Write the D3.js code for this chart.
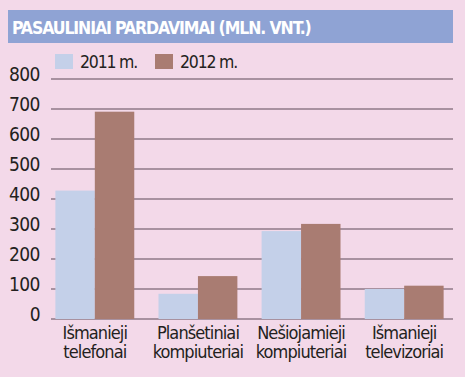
<!DOCTYPE html>
<html>
<head>
<meta charset="utf-8">
<script src="https://cdnjs.cloudflare.com/ajax/libs/d3/7.8.5/d3.min.js"></script>
<style>
  html, body { margin: 0; padding: 0; background: #f3d9e9; }
  svg { display: block; }
</style>
</head>
<body>
<svg id="chart" width="465" height="377"></svg>
<script>
var title = 'PASAULINIAI PARDAVIMAI (MLN. VNT.)';
var categories = [['Išmanieji', 'telefonai'], ['Planšetiniai', 'kompiuteriai'],
	['Nešiojamieji', 'kompiuteriai'], ['Išmanieji', 'televizoriai']];
var seriesNames = ['2011 m.', '2012 m.'];
var values2011 = [428, 84, 293, 100];
var values2012 = [691, 143, 317, 111];
var yTicks = [0, 100, 200, 300, 400, 500, 600, 700, 800];

var colors = ['#c4d0e9', '#a97c72'];
var font = '"DejaVu Sans Condensed", "Liberation Sans", sans-serif';

var svg = d3.select('#chart');

// title band
svg.append('rect')
	.attr('x', 8).attr('y', 10)
	.attr('width', 445).attr('height', 33)
	.attr('fill', '#8fa3d4');
svg.append('text')
	.text(title)
	.attr('x', 12).attr('y', 34)
	.attr('font-family', font)
	.attr('font-weight', 'bold')
	.attr('font-size', 17.5)
	.attr('letter-spacing', -1.1)
	.attr('fill', 'white');

var x0 = d3.scaleBand()
	.domain(d3.range(categories.length))
	.range([43, 456])
	.paddingInner(0.235)
	.paddingOuter(0.12);
var x1 = d3.scaleBand()
	.domain([0, 1])
	.range([0, x0.bandwidth()]);
var y = d3.scaleLinear()
	.domain([0, 800])
	.range([319, 79]);

// grid lines (behind bars)
svg.append('g')
	.selectAll('line')
	.data(yTicks)
	.enter()
	.append('line')
	.attr('x1', 51).attr('x2', 453)
	.attr('y1', d => y(d)).attr('y2', d => y(d))
	.attr('stroke', '#5e4a58')
	.attr('stroke-width', 1.2);

// tick labels
svg.append('g')
	.selectAll('text')
	.data(yTicks)
	.enter()
	.append('text')
	.text(d => d)
	.attr('x', 40)
	.attr('y', d => y(d) + 2)
	.attr('text-anchor', 'end')
	.attr('font-family', font)
	.attr('font-size', 19)
	.attr('letter-spacing', -0.5)
	.attr('fill', '#231f20');

// bars
var rows = categories.map((c, i) => [values2011[i], values2012[i]]);
var groups = svg.append('g')
	.selectAll('g')
	.data(rows)
	.enter()
	.append('g')
	.attr('transform', (d, i) => 'translate(' + x0(i) + ',0)');
groups.selectAll('rect')
	.data(d => d)
	.enter()
	.append('rect')
	.attr('x', (d, i) => x1(i))
	.attr('y', d => y(d))
	.attr('width', x1.bandwidth())
	.attr('height', d => y(0) - y(d))
	.attr('fill', (d, i) => colors[i]);

// category labels
var labels = svg.append('g')
	.selectAll('text')
	.data(categories)
	.enter()
	.append('text')
	.attr('x', (d, i) => x0(i) + x0.bandwidth() / 2)
	.attr('y', 339)
	.attr('text-anchor', 'middle')
	.attr('font-family', font)
	.attr('font-size', 18)
	.attr('letter-spacing', -0.9)
	.attr('fill', '#231f20');
labels.selectAll('tspan')
	.data(d => d)
	.enter()
	.append('tspan')
	.attr('x', function() { return d3.select(this.parentNode).attr('x'); })
	.attr('dy', (d, i) => i === 0 ? 0 : 19)
	.text(d => d);

// legend
var legend = svg.append('g')
	.selectAll('g')
	.data(seriesNames)
	.enter()
	.append('g')
	.attr('transform', (d, i) => 'translate(' + (55 + i * 100) + ',54)');
legend.append('rect')
	.attr('width', 18).attr('height', 15)
	.attr('fill', (d, i) => colors[i]);
legend.append('text')
	.text(d => d)
	.attr('x', 25).attr('y', 14)
	.attr('font-family', font)
	.attr('font-size', 17.5)
	.attr('letter-spacing', -1.2)
	.attr('fill', '#231f20');
</script>
</body>
</html>
